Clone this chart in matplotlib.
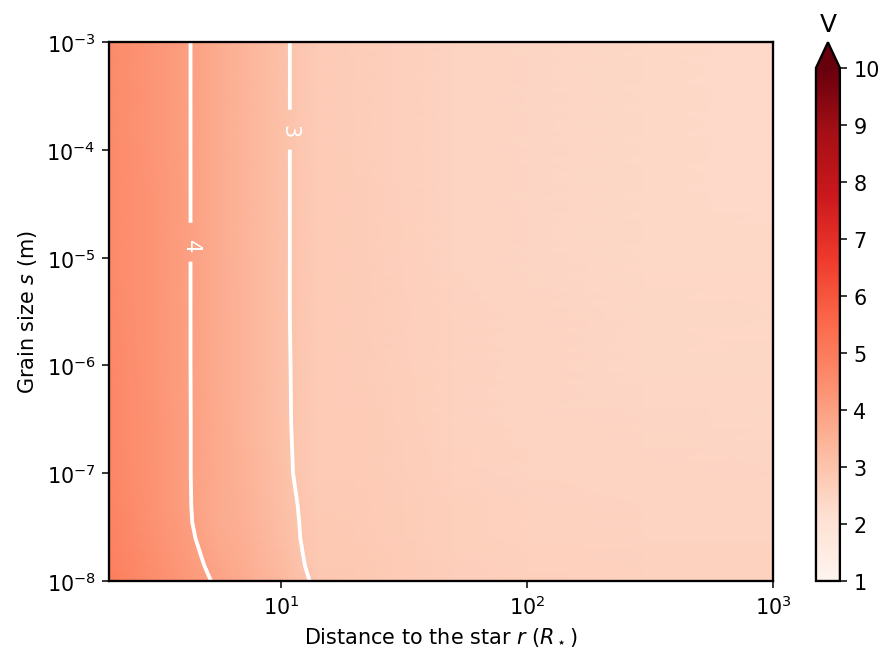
import numpy as np
import matplotlib
matplotlib.use("Agg")
import matplotlib.pyplot as plt

# distance to the star (R_star) and grain size (m) nodes
r_nodes = np.array([2, 3, 4.25, 5.5, 7, 10.8, 14, 20, 50, 100, 300, 1000])
s_nodes = np.array([1e-8, 1.4e-8, 1.9e-8, 2.5e-8, 3.5e-8, 5e-8, 1e-7, 3e-7,
                    1e-6, 3e-6, 1e-5, 3e-5, 1e-4, 3e-4, 1e-3])

# V values, one row per grain size
V_s1e8 = [4.95, 4.55, 4.22, 3.93, 3.70, 3.22, 2.91, 2.86, 2.68, 2.62, 2.58, 2.58]
V_s14e9 = [4.90, 4.50, 4.15, 3.85, 3.65, 3.16, 2.86, 2.84, 2.66, 2.60, 2.56, 2.56]
V_s19e9 = [4.86, 4.46, 4.10, 3.80, 3.61, 3.12, 2.85, 2.83, 2.65, 2.59, 2.55, 2.55]
V_s25e9 = [4.83, 4.43, 4.06, 3.75, 3.58, 3.10, 2.83, 2.82, 2.64, 2.58, 2.54, 2.54]
V_s35e9 = [4.80, 4.41, 4.03, 3.69, 3.56, 3.08, 2.84, 2.81, 2.63, 2.57, 2.53, 2.52]
V_s5e8 = [4.78, 4.40, 4.018, 3.70, 3.54, 3.07, 2.82, 2.80, 2.62, 2.56, 2.52, 2.51]
V_s1e7 = [4.72, 4.36, 4.012, 3.71, 3.50, 3.03, 2.79, 2.78, 2.60, 2.53, 2.48, 2.47]
V_s3e7 = [4.69, 4.34, 4.012, 3.71, 3.48, 3.015, 2.775, 2.76, 2.58, 2.51, 2.45, 2.44]
V_s1e6 = [4.66, 4.33, 4.01, 3.70, 3.47, 3.01, 2.78, 2.75, 2.56, 2.49, 2.43, 2.42]
V_s3e6 = [4.64, 4.32, 4.01, 3.70, 3.47, 3.005, 2.78, 2.74, 2.55, 2.48, 2.42, 2.40]
V_s1e5 = [4.62, 4.31, 4.01, 3.70, 3.46, 3.005, 2.78, 2.73, 2.53, 2.46, 2.40, 2.38]
V_s3e5 = [4.61, 4.305, 4.01, 3.70, 3.455, 3.005, 2.78, 2.725, 2.525, 2.455, 2.39, 2.37]
V_s1e4 = [4.60, 4.30, 4.01, 3.70, 3.45, 3.005, 2.78, 2.72, 2.52, 2.45, 2.38, 2.36]
V_s3e4 = [4.60, 4.30, 4.01, 3.70, 3.45, 3.005, 2.78, 2.72, 2.52, 2.45, 2.38, 2.36]
V_s1e3 = [4.60, 4.30, 4.01, 3.70, 3.45, 3.005, 2.78, 2.72, 2.52, 2.45, 2.38, 2.36]

V = np.array([V_s1e8, V_s14e9, V_s19e9, V_s25e9, V_s35e9, V_s5e8, V_s1e7,
              V_s3e7, V_s1e6, V_s3e6, V_s1e5, V_s3e5, V_s1e4, V_s3e4, V_s1e3])
R, S = np.meshgrid(r_nodes, s_nodes)

plt.rcParams["font.size"] = 10.8
plt.rcParams["axes.linewidth"] = 1.2

fig = plt.figure(figsize=(6.42, 4.746), dpi=138)
ax = fig.add_axes([0.123, 0.1115, 0.7495, 0.8225])
cax = fig.add_axes([0.921, 0.1115, 0.027, 0.8225])

# scales first so the inline labels cut the lines in log space
ax.set_xscale("log")
ax.set_yscale("log")
ax.set_xlim(2, 1000)
ax.set_ylim(1e-8, 1e-3)

mesh = ax.pcolormesh(R, S, V, cmap="Reds", vmin=1, vmax=10, shading="gouraud")
cs = ax.contour(R, S, V, levels=[3, 4], colors="white", linewidths=2)
labels = ax.clabel(cs, fmt="%d", fontsize=11, inline=True, inline_spacing=12,
                   manual=[(4.29, 1.3e-5), (10.87, 1.5e-4)])
for t in labels:
    t.set_rotation(270)

ax.set_xlim(2, 1000)
ax.set_ylim(1e-8, 1e-3)
ax.minorticks_off()
ax.set_xlabel(r"Distance to the star $r$ ($R_\star$)")
ax.set_ylabel(r"Grain size $s$ (m)")

cb = fig.colorbar(mesh, cax=cax, extend="max")
cb.set_ticks(range(1, 11))
cb.ax.set_title("V", fontsize=13)

fig.savefig("out.png", dpi=138)
